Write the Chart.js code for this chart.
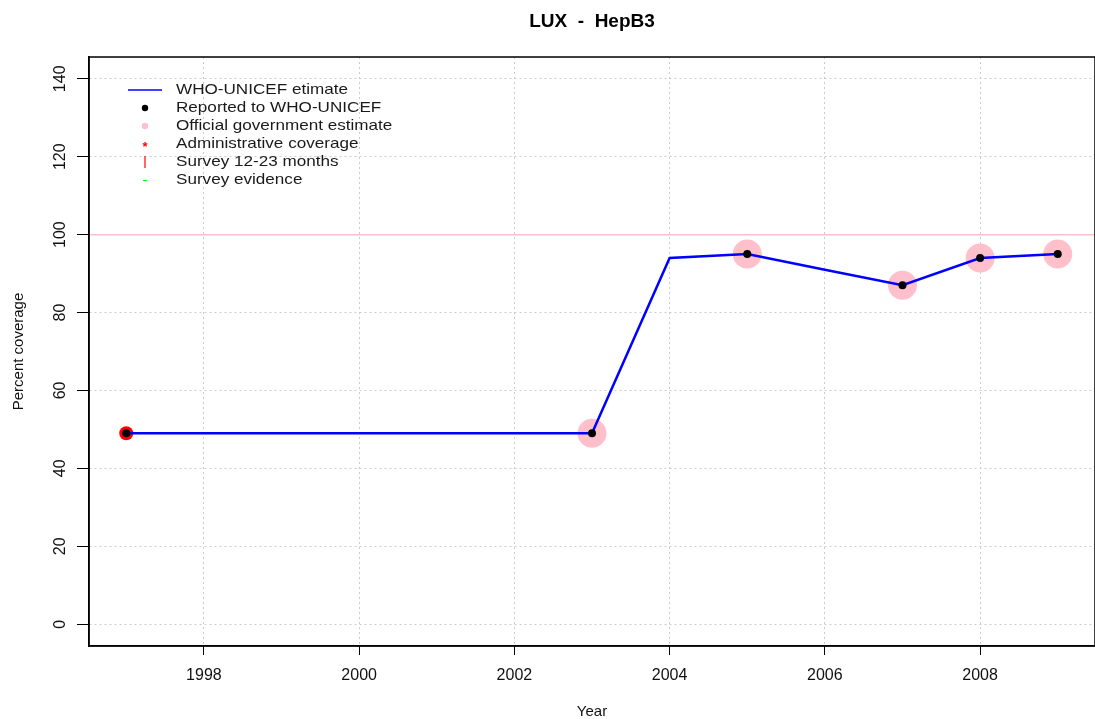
<!DOCTYPE html>
<html>
<head>
<meta charset="utf-8">
<script src="https://cdn.jsdelivr.net/npm/chart.js@4.4.1/dist/chart.umd.min.js"></script>
<style>
  html, body { margin: 0; padding: 0; background: #ffffff; }
  #wrap { width: 1095px; height: 719px; }
</style>
</head>
<body>
<div id="wrap"><canvas id="chart" width="1095" height="719"></canvas></div>
<script>
// LUX - HepB3 coverage
const years = [1997, 1998, 1999, 2000, 2001, 2002, 2003, 2004, 2005, 2006, 2007, 2008, 2009];
const whoUnicef = [49, 49, 49, 49, 49, 49, 49, 94, 95, 91, 87, 94, 95];

const reportedYears = [1997, 2003, 2005, 2007, 2008, 2009];
const reported = [49, 49, 95, 87, 94, 95];

const officialYears = [2003, 2005, 2007, 2008, 2009];
const official = [49, 95, 87, 94, 95];

const adminYears = [1997];
const admin = [49];

const xTicks = [1998, 2000, 2002, 2004, 2006, 2008];
const yTicks = [0, 20, 40, 60, 80, 100, 120, 140];
const targetLine = 100;

const legendItems = [
  { label: 'WHO-UNICEF etimate', kind: 'line', color: '#0000ff' },
  { label: 'Reported to WHO-UNICEF', kind: 'dot', color: '#000000' },
  { label: 'Official government estimate', kind: 'dot', color: '#ffc0cb' },
  { label: 'Administrative coverage', kind: 'star', color: '#ff0000' },
  { label: 'Survey 12-23 months', kind: 'bar', color: '#ff0000' },
  { label: 'Survey evidence', kind: 'dash', color: '#00ff00' }
];

const FONT = '"Liberation Sans", Arial, Helvetica, sans-serif';

function pairs(xs, ys) {
  return xs.map((x, i) => ({ x, y: ys[i] }));
}

// box around the plot + pink reference line at 100
const framePlugin = {
  id: 'frame',
  beforeDatasetsDraw(chart) {
    const { ctx, chartArea, scales } = chart;
    const y = scales.y.getPixelForValue(targetLine);
    ctx.save();
    ctx.strokeStyle = '#ffc0cb';
    ctx.lineWidth = 1.5;
    ctx.beginPath();
    ctx.moveTo(chartArea.left, y);
    ctx.lineTo(chartArea.right, y);
    ctx.stroke();
    ctx.restore();
  },
  afterDraw(chart) {
    const { ctx, chartArea } = chart;
    ctx.save();
    ctx.strokeStyle = '#000000';
    ctx.lineWidth = 1.5;
    ctx.strokeRect(chartArea.left, chartArea.top, chartArea.right - chartArea.left, chartArea.bottom - chartArea.top);
    ctx.restore();
  }
};

// legend drawn inside the top-left of the plot, R style (no box)
const insetLegend = {
  id: 'insetLegend',
  afterDraw(chart) {
    const { ctx } = chart;
    const symX = 145, textX = 176, top = 90, step = 18;
    ctx.save();
    ctx.textBaseline = 'middle';
    legendItems.forEach((item, i) => {
      const y = top + i * step;
      ctx.strokeStyle = item.color;
      ctx.fillStyle = item.color;
      if (item.kind === 'line') {
        ctx.lineWidth = 1.5;
        ctx.beginPath();
        ctx.moveTo(128, y);
        ctx.lineTo(162, y);
        ctx.stroke();
      } else if (item.kind === 'dot') {
        ctx.beginPath();
        ctx.arc(symX, y, 3.2, 0, Math.PI * 2);
        ctx.fill();
      } else if (item.kind === 'star') {
        ctx.font = 'bold 13px ' + FONT;
        ctx.textAlign = 'center';
        ctx.fillText('*', symX, y + 3);
      } else if (item.kind === 'bar') {
        ctx.lineWidth = 1.2;
        ctx.beginPath();
        ctx.moveTo(symX, y - 6);
        ctx.lineTo(symX, y + 6);
        ctx.stroke();
      } else if (item.kind === 'dash') {
        ctx.lineWidth = 1.2;
        ctx.beginPath();
        ctx.moveTo(symX - 2, y + 0.5);
        ctx.lineTo(symX + 2, y + 0.5);
        ctx.stroke();
      }
      // R text in the reference is a bit wider than Arial, stretch it
      ctx.save();
      ctx.translate(textX, y);
      ctx.scale(1.14, 1);
      ctx.font = '15px ' + FONT;
      ctx.textAlign = 'left';
      ctx.fillStyle = '#1a1a1a';
      ctx.fillText(item.label, 0, 0);
      ctx.restore();
    });
    ctx.restore();
  }
};

const ctx = document.getElementById('chart').getContext('2d');

new Chart(ctx, {
  type: 'scatter',
  data: {
    datasets: [
      {
        label: 'Reported to WHO-UNICEF',
        data: pairs(reportedYears, reported),
        backgroundColor: '#000000',
        borderColor: '#000000',
        pointRadius: 4,
        borderWidth: 0,
        order: 0
      },
      {
        label: 'WHO-UNICEF etimate',
        type: 'line',
        data: pairs(years, whoUnicef),
        borderColor: '#0000ff',
        borderWidth: 2.5,
        pointRadius: 0,
        tension: 0,
        fill: false,
        order: 1
      },
      {
        label: 'Administrative coverage',
        data: pairs(adminYears, admin),
        backgroundColor: '#ff0000',
        borderColor: '#ff0000',
        pointRadius: 7,
        borderWidth: 0,
        order: 2
      },
      {
        label: 'Official government estimate',
        data: pairs(officialYears, official),
        backgroundColor: '#ffc0cb',
        borderColor: '#ffc0cb',
        pointRadius: 14.5,
        borderWidth: 0,
        order: 3
      }
    ]
  },
  options: {
    responsive: false,
    animation: false,
    devicePixelRatio: 1,
    layout: { padding: 0, autoPadding: false },
    plugins: {
      legend: { display: false },
      tooltip: { enabled: false },
      title: {
        display: true,
        fullSize: false,
        text: 'LUX  -  HepB3',
        color: '#000000',
        font: { family: FONT, size: 19, weight: 'bold' },
        padding: { top: 10.1, bottom: 24.1 }
      }
    },
    scales: {
      x: {
        type: 'linear',
        min: 1996.52,
        max: 2009.48,
        afterBuildTicks(scale) {
          scale.ticks = xTicks.map(v => ({ value: v }));
        },
        afterFit(scale) {
          scale.height = 73;
          scale.paddingLeft = 0;
          scale.paddingRight = 0;
        },
        grid: {
          color: '#cccccc',
          lineWidth: 1,
          tickLength: 9,
          tickColor: '#000000',
          tickBorderDash: []
        },
        border: { display: true, color: '#000000', width: 1.5, dash: [2, 3] },
        ticks: {
          color: '#111111',
          font: { family: FONT, size: 16 },
          padding: 11,
          maxRotation: 0,
          minRotation: 0,
          callback: v => String(v)
        },
        title: {
          display: true,
          text: 'Year',
          color: '#111111',
          font: { family: FONT, size: 15, lineHeight: 1 },
          padding: { top: 0, bottom: 0 }
        }
      },
      y: {
        type: 'linear',
        min: -5.6,
        max: 145.6,
        afterBuildTicks(scale) {
          scale.ticks = yTicks.map(v => ({ value: v }));
        },
        afterFit(scale) {
          scale.width = 89;
          scale.paddingTop = 0;
          scale.paddingBottom = 0;
        },
        grid: {
          color: '#cccccc',
          lineWidth: 1,
          tickLength: 12,
          tickColor: '#000000',
          tickBorderDash: []
        },
        border: { display: true, color: '#000000', width: 1.5, dash: [2, 3] },
        ticks: {
          color: '#111111',
          font: { family: FONT, size: 16 },
          padding: 3,
          minRotation: 90,
          maxRotation: 90,
          crossAlign: 'center',
          callback: v => String(v)
        },
        title: {
          display: true,
          text: 'Percent coverage',
          color: '#111111',
          font: { family: FONT, size: 15, lineHeight: 1 },
          padding: { top: 11.5, bottom: 0 }
        }
      }
    }
  },
  plugins: [framePlugin, insetLegend]
});
</script>
</body>
</html>
